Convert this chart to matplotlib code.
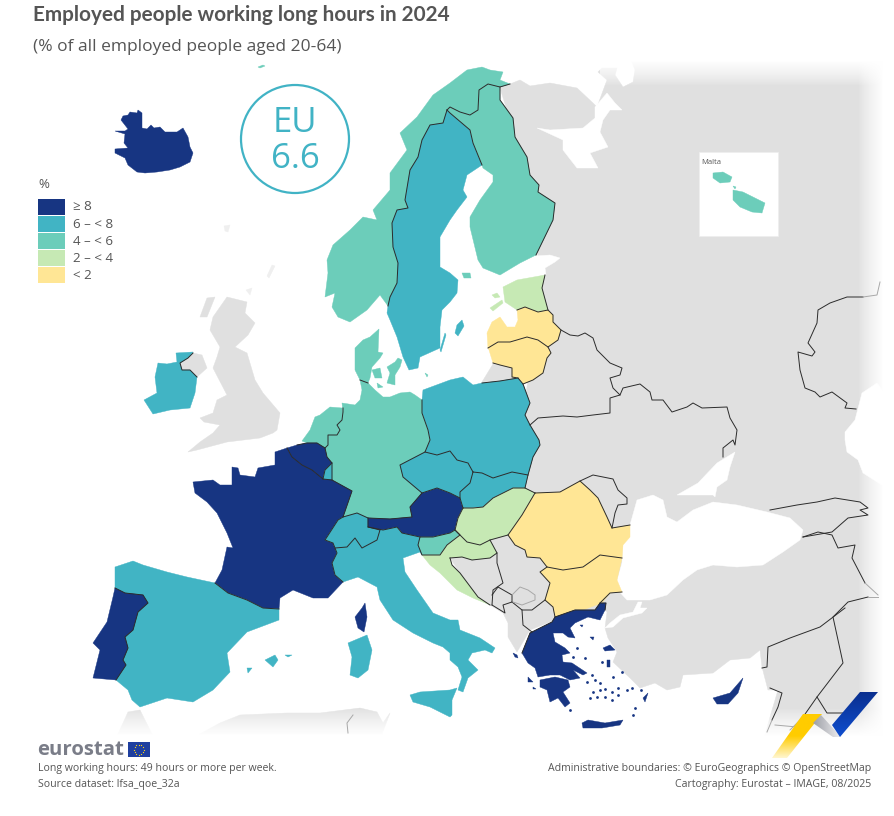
import numpy as np
import matplotlib
matplotlib.use("Agg")
import matplotlib.pyplot as plt
from matplotlib.colors import LinearSegmentedColormap
from matplotlib.patches import Circle, Polygon, Rectangle

plt.rcParams['font.family'] = ['Open Sans', 'DejaVu Sans']

TEXT_COL = '#555555'
LAND_COL = '#e0e0e0'
BORDER_COL = '#2b2b2b'
EU_COL = '#41b3c5'

# classes of the map
CLASS_LABELS = ['≥ 8', '6 – < 8', '4 – < 6', '2 – < 4', '< 2']
CLASS_COLORS = ['#173582', '#41b4c4', '#6ccdba', '#c6e9b4', '#ffe695']

COUNTRY_CLASS = {
    'IS': 0, 'FR': 0, 'BE': 0, 'PT': 0, 'AT': 0, 'EL': 0, 'CY': 0,
    'SE': 1, 'IE': 1, 'PL': 1, 'CZ': 1, 'SK': 1, 'ES': 1, 'IT': 1, 'CH': 1, 'LU': 1,
    'NO': 2, 'FI': 2, 'DK': 2, 'DE': 2, 'NL': 2, 'SI': 2, 'MT': 2,
    'EE': 3, 'HU': 3, 'HR': 3,
    'LV': 4, 'LT': 4, 'RO': 4, 'BG': 4,
}

# outlines, in pixels of the reference
SHAPES = {
    'IS': [[(115,131),(125,131),(128,129),(121,120),(123,116),(128,115),(130,112),(137,113),(138,110),(142,113),(142,128),(147,129),(151,125),(154,128),(160,127),(165,132),(177,132),(183,128),(188,137),(190,147),(193,153),(190,162),(180,167),(170,170),(157,172),(145,173),(137,172),(128,165),(125,158),(115,153),(115,149),(128,148),(124,143),(125,134)]],
    'NO': [[(388,306),(380,295),(367,310),(350,322),(338,317),(332,307),(335,293),(325,297),(328,273),(327,260),(333,245),(350,230),(363,217),(377,220),(373,210),(390,190),(390,173),(407,150),(400,133),(417,117),(433,95),(450,83),(467,70),(482,67),(490,70),(503,72),(500,80),(510,84),(500,87),(488,84),(479,90),(478,110),(470,115),(460,112),(450,107),(447,110),(443,123),(430,125),(422,140),(418,157),(410,170),(405,200),(408,208),(397,210),(392,223),(393,247),(398,263),(397,283),(390,297)],
           [(258,67),(263,65),(265,66),(260,68)]],
    'SE': [[(447,110),(443,123),(430,125),(422,140),(418,157),(410,170),(405,200),(408,208),(397,210),(392,223),(393,247),(398,263),(397,283),(390,297),(388,306),(387,313),(390,320),(397,337),(403,357),(409,370),(418,368),(420,357),(440,348),(440,327),(442,310),(450,302),(457,293),(458,280),(450,273),(440,267),(440,237),(450,220),(457,210),(467,197),(463,190),(467,175),(482,165),(473,143),(470,130),(450,113)],
           [(462,320),(464,326),(458,336),(455,333),(457,325)],
           [(445,333),(446,335),(441,352),(440,350)]],
    'FI': [[(500,87),(500,100),(513,118),(515,137),(527,157),(530,175),(539,185),(538,192),(555,203),(553,220),(536,255),(520,263),(500,275),(483,268),(478,260),(470,227),(470,217),(480,200),(493,182),(493,175),(483,168),(482,165),(473,143),(470,130),(450,113),(447,110),(450,107),(460,112),(470,115),(478,110),(479,90),(488,84)],
           [(462,273),(470,273),(471,278),(464,278)]],
    'EE': [[(503,287),(517,280),(545,275),(542,288),(548,310),(538,312),(525,307),(517,310),(505,302)],
           [(490,308),(502,300),(503,303),(493,311)],
           [(492,295),(497,293),(500,297),(495,298)]],
    'LV': [[(517,310),(525,307),(538,312),(548,310),(553,315),(553,322),(561,330),(558,340),(548,347),(538,340),(527,337),(510,342),(498,342),(488,348),(487,333),(492,322),(500,317),(507,327),(515,327),(518,320)]],
    'LT': [[(488,348),(498,342),(510,342),(527,337),(538,340),(548,347),(551,353),(547,358),(543,373),(533,380),(523,384),(518,378),(512,377),(512,368),(500,365),(493,363),(489,350)]],
    'PL': [[(422,400),(423,390),(450,380),(463,377),(473,385),(482,383),(500,381),(518,378),(523,384),(530,403),(525,415),(530,425),(539,440),(540,445),(533,457),(528,475),(512,472),(493,478),(482,473),(473,472),(468,463),(457,460),(450,451),(437,455),(425,452),(430,440),(428,430),(422,413)]],
    'DE': [[(360,380),(368,383),(375,390),(383,397),(390,397),(400,393),(410,392),(415,395),(422,400),(422,413),(428,430),(430,440),(425,452),(400,465),(403,477),(422,493),(410,507),(412,517),(390,519),(368,518),(357,513),(343,517),(352,491),(332,480),(332,463),(327,457),(325,448),(328,445),(328,435),(337,435),(340,430),(337,425),(342,420),(343,412),(342,403),(355,405),(360,400),(362,390)]],
    'DK': [[(360,380),(355,370),(355,348),(363,340),(370,337),(379,329),(378,352),(383,353),(380,358),(372,367),(370,378),(368,383)],
           [(387,367),(395,362),(398,358),(402,360),(400,367),(395,375),(395,385),(387,383),(390,373)],
           [(372,370),(380,368),(382,378),(375,378)],
           [(377,383),(383,387),(378,388)],
           [(425,373),(428,375),(427,377)]],
    'NL': [[(302,441),(310,430),(315,417),(320,415),(330,407),(342,408),(343,412),(342,420),(337,425),(340,430),(337,435),(328,435),(328,445),(325,448),(317,443),(307,443)]],
    'BE': [[(287,448),(297,445),(307,443),(317,443),(325,448),(327,457),(332,463),(325,470),(323,479),(312,470),(302,465),(292,457)]],
    'LU': [[(325,470),(332,463),(332,480),(323,479)]],
    'FR': [[(193,482),(213,480),(220,485),(232,485),(232,467),(238,468),(240,475),(255,477),(258,468),(275,465),(275,452),(287,448),(292,457),(302,465),(312,470),(323,479),(332,480),(352,491),(343,517),(338,520),(325,540),(333,543),(335,548),(337,553),(332,563),(335,575),(343,582),(328,598),(313,598),(293,590),(280,598),(279,609),(263,608),(247,600),(228,593),(215,583),(222,570),(227,547),(233,548),(227,533),(217,513),(207,502),(195,493)],
           [(365,603),(367,617),(364,632),(358,628),(355,617),(362,608)]],
    'CH': [[(325,540),(338,520),(343,517),(357,513),(368,518),(368,527),(380,530),(377,540),(362,548),(355,538),(347,547),(335,548),(333,543)]],
    'AT': [[(368,518),(390,519),(412,517),(410,507),(422,493),(437,488),(450,493),(460,498),(463,508),(458,518),(455,530),(450,533),(433,537),(420,537),(402,533),(397,527),(383,530),(368,527)]],
    'CZ': [[(400,465),(425,452),(437,455),(450,451),(457,460),(468,463),(473,472),(470,483),(460,492),(460,498),(450,493),(437,488),(422,493),(403,477)]],
    'SK': [[(473,472),(482,473),(493,478),(512,472),(528,475),(525,488),(513,488),(493,498),(483,507),(473,508),(463,508),(460,498),(460,492),(470,483)]],
    'HU': [[(463,508),(473,508),(483,507),(493,498),(513,488),(525,488),(535,493),(522,515),(508,535),(490,540),(480,545),(467,542),(455,530),(458,518)]],
    'SI': [[(420,537),(433,537),(450,533),(455,530),(460,535),(447,545),(440,555),(422,555),(418,545)]],
    'HR': [[(422,555),(440,555),(447,545),(460,535),(467,542),(480,545),(490,540),(497,553),(490,558),(472,560),(462,557),(450,558),(452,565),(460,573),(478,597),(490,605),(473,598),(457,590),(440,573),(430,565)]],
    'RO': [[(508,535),(522,515),(535,493),(560,492),(580,481),(590,490),(598,498),(607,517),(612,528),(630,525),(630,537),(623,545),(622,558),(600,555),(583,567),(563,570),(547,567),(540,558),(527,557),(525,550),(515,545)]],
    'BG': [[(547,567),(563,570),(583,567),(600,555),(622,558),(617,580),(622,592),(610,593),(602,603),(583,610),(573,612),(555,617),(553,607),(545,600),(550,583),(540,572)]],
    'EL': [[(522,653),(530,633),(552,622),(555,617),(575,610),(595,610),(600,603),(606,603),(605,610),(600,620),(588,617),(575,623),(570,628),(575,638),(568,637),(563,633),(553,633),(555,642),(565,648),(570,653),(562,655),(563,662),(572,663),(587,673),(583,675),(573,670),(580,678),(570,680),(560,675),(550,675),(538,677),(535,668),(528,663)],
           [(540,680),(555,677),(568,680),(570,687),(563,692),(570,703),(565,707),(558,698),(550,702),(547,690),(540,687)],
           [(582,723),(588,720),(605,723),(623,720),(620,725),(602,728),(583,728)],
           [(603,648),(610,645),(615,650),(605,651)],
           [(607,660),(610,660),(610,667),(607,667)],
           [(643,698),(648,693),(645,702)],
           [(513,653),(517,655),(518,658),(515,657)],
           [(528,677),(533,682),(528,682)],
           [(533,687),(536,689),(533,689)],
           [(580,625),(583,625),(582,627)],
           [(590,637),(594,637),(593,640)]],
    'CY': [[(713,698),(730,693),(743,678),(738,693),(728,704),(717,704)]],
    'IT': [[(335,548),(347,547),(355,538),(362,548),(377,540),(380,530),(383,530),(397,527),(402,533),(420,537),(418,545),(422,555),(420,552),(403,558),(405,572),(417,590),(433,613),(450,620),(458,620),(460,630),(480,638),(495,648),(492,653),(485,650),(472,653),(468,660),(478,670),(468,678),(463,692),(458,690),(462,677),(458,667),(450,660),(450,653),(443,647),(433,643),(413,633),(393,620),(380,600),(377,587),(358,577),(343,582),(335,575),(332,563),(337,553)],
           [(410,695),(420,692),(450,690),(457,688),(452,700),(452,715),(450,717),(430,707),(413,702)],
           [(348,643),(367,635),(372,650),(368,670),(358,678),(350,675),(352,657)]],
    'ES': [[(115,567),(133,561),(143,565),(167,572),(187,577),(215,583),(228,593),(247,600),(263,608),(279,609),(279,620),(247,632),(227,653),(230,672),(213,690),(193,702),(167,698),(140,707),(132,700),(128,690),(116,680),(126,665),(123,660),(128,648),(125,637),(133,630),(138,612),(148,603),(143,595),(125,593),(115,588)],
           [(265,660),(275,655),(278,660),(273,667)],
           [(285,655),(292,655),(288,657)],
           [(247,668),(252,668),(248,673)]],
    'PT': [[(115,588),(125,593),(143,595),(148,603),(138,612),(133,630),(125,637),(128,648),(123,660),(126,665),(116,680),(93,678),(100,650),(93,643),(107,622),(113,597)]],
    'IE': [[(158,363),(167,364),(177,362),(176,353),(193,352),(188,358),(180,363),(182,370),(190,370),(197,377),(195,393),(190,408),(170,410),(153,414),(144,400),(157,393),(155,377)]],
    'MT': [[(733,190),(743,192),(753,197),(765,203),(762,213),(752,212),(740,207),(733,200)],
           [(713,173),(723,172),(732,177),(730,182),(720,183),(713,178)],
           [(733,186),(736,187),(735,189)]],
}

# grey land around the countries with data
LAND_EAST = [(500,88),(510,84),(520,80),(530,86),(550,83),(577,88),(593,103),(597,107),(607,80),(598,72),(602,68),(617,68),(615,75),(623,87),(633,82),(635,70),(632,62),(882,62),(882,735),(765,735),(770,717),(778,690),(768,690),(762,667),(760,650),(750,658),(730,660),(713,673),(683,675),(680,687),(667,690),(655,683),(640,688),(630,678),(613,662),(617,652),(608,638),(605,628),(607,612),(605,610),(560,618),(530,630),(517,652),(508,637),(508,623),(503,613),(490,605),(478,597),(460,573),(450,558),(460,530),(500,500),(525,430),(525,400),(540,300),(535,200),(510,120)]
LAND_UK = [(213,317),(227,297),(247,302),(245,313),(255,323),(248,335),(235,347),(247,353),(255,380),(263,393),(280,413),(277,430),(273,433),(260,438),(227,442),(197,450),(188,452),(200,442),(213,433),(220,425),(204,422),(200,418),(213,413),(217,400),(227,395),(213,368),(217,357),(220,347),(210,330)]
LAND_NI = [(180,363),(188,358),(193,353),(202,355),(207,368),(197,377),(190,370),(182,370)]
LAND_HEBRIDES = [(200,317),(207,298),(215,297),(207,317)]
LAND_KALININGRAD = [(482,382),(493,364),(500,365),(512,368),(512,377),(518,378),(500,381)]
LAND_MOROCCO = [(118,734),(128,712),(140,710),(145,720),(152,734)]
LAND_ALGERIA = [(200,734),(220,723),(240,715),(287,713),(320,713),(360,708),(377,712),(383,723),(390,713),(382,734)]
FAINT_ISLES = [[(224,226),(230,225),(228,232),(225,231)], [(272,265),(275,266),(269,278),(267,276)], [(246,290),(252,288),(250,295)]]

SEA_WHITE = [(537,128),(550,130),(583,128),(595,118),(595,107),(607,93),(615,103),(622,110),(610,110),(603,120),(600,132),(608,147),(590,153),(598,168),(577,168),(563,150),(563,140)]
SEA_FINLAND = [(520,268),(535,256),(550,255),(560,258),(555,262),(545,268),(546,275),(517,280),(503,285),(500,278)]
SEA_BLACK = [(630,525),(637,500),(653,495),(663,500),(667,517),(677,522),(693,510),(713,502),(737,505),(767,512),(790,518),(803,530),(800,540),(783,552),(763,565),(737,567),(713,565),(697,570),(683,580),(667,595),(650,600),(627,600),(615,587),(622,563),(623,540)]
SEA_AZOV = [(715,497),(717,487),(727,480),(730,467),(735,452),(717,463),(698,483),(677,495),(697,495),(713,495)]
SEA_MARMARA = [(638,602),(642,602),(640,608),(647,608),(642,613),(623,618),(613,627),(605,628),(610,623),(620,615),(633,612)]
SEA_CASPIAN = [(877,383),(862,393),(855,420),(845,432),(845,440),(847,452),(858,460),(863,473),(885,487),(890,400)]

# borders between countries
BORDERS = [
    [(447,110),(443,123),(430,125),(422,140),(418,157),(410,170),(405,200),(408,208),(397,210),(392,223),(393,247),(398,263),(397,283),(390,297),(388,306)],
    [(510,84),(500,87),(488,84),(479,90),(478,110),(470,115),(460,112),(450,107),(447,110)],
    [(447,110),(450,113),(470,130),(473,143),(482,165)],
    [(500,87),(500,100),(513,118),(515,137),(527,157),(530,175),(539,185),(538,192),(555,203),(553,220),(536,255)],
    [(545,275),(542,288),(548,310)],
    [(517,310),(525,307),(538,312),(548,310),(553,315),(553,322),(561,330),(558,340),(548,347)],
    [(488,348),(498,342),(510,342),(527,337),(538,340),(548,347),(551,353),(547,358),(543,373),(533,380),(523,384)],
    [(482,383),(500,381),(518,378),(512,377),(512,368),(500,365),(493,363)],
    [(518,378),(523,384),(530,403),(525,415),(530,425),(539,440),(540,445),(533,457),(528,475)],
    [(422,400),(422,413),(428,430),(430,440),(425,452),(437,455),(450,451),(457,460),(468,463),(473,472)],
    [(473,472),(482,473),(493,478),(512,472),(528,475),(525,488),(535,493)],
    [(425,452),(400,465),(403,477),(422,493),(437,488),(450,493),(460,498),(463,508)],
    [(473,472),(470,483),(460,492),(460,498)],
    [(463,508),(473,508),(483,507),(493,498),(513,488),(525,488)],
    [(535,493),(522,515),(508,535),(490,540),(480,545),(467,542),(455,530)],
    [(463,508),(458,518),(455,530),(450,533),(433,537),(420,537),(402,533),(397,527),(383,530),(368,527)],
    [(422,493),(410,507),(412,517),(390,519),(368,518),(357,513),(343,517),(352,491),(332,480),(332,463),(327,457),(325,448)],
    [(343,408),(343,412),(342,420),(337,425),(340,430),(337,435),(328,435),(328,445),(325,448),(317,443),(307,443),(297,445)],
    [(360,380),(368,383)],
    [(287,448),(292,457),(302,465),(312,470),(323,479),(332,480)],
    [(332,463),(325,470),(323,479)],
    [(343,517),(338,520),(325,540),(333,543),(335,548),(337,553),(332,563),(335,575),(343,582)],
    [(335,548),(347,547),(355,538),(362,548),(377,540),(380,530),(368,527),(368,518)],
    [(215,583),(228,593),(247,600),(263,608),(279,609)],
    [(115,588),(125,593),(143,595),(148,603),(138,612),(133,630),(125,637),(128,648),(123,660),(126,665),(116,680)],
    [(420,537),(418,545),(422,555),(440,555),(447,545),(460,535),(455,530)],
    [(193,353),(188,358),(180,363),(182,370),(190,370),(197,377)],
    [(508,535),(515,545),(525,550),(527,557),(540,558),(547,567),(563,570),(583,567),(600,555),(622,558)],
    [(535,493),(560,492),(580,481),(590,490),(598,498),(607,517),(612,528),(630,525)],
    [(547,567),(540,572),(550,583),(545,600),(553,607),(555,617),(575,610),(595,610),(600,603),(610,593),(622,592)],
    [(600,603),(606,603),(605,610)],
    [(522,653),(530,633),(552,622),(555,617)],
    # Belarus, Ukraine, Moldova
    [(561,330),(570,335),(578,336),(585,333),(593,338),(597,350),(610,363),(622,368),(620,375),(610,378),(613,388),(620,395),(623,388),(640,384),(650,392),(652,400),(663,400),(672,412),(687,407),(693,403),(702,408),(727,407),(730,418),(737,430),(735,445),(733,440),(723,448),(723,457)],
    [(530,425),(538,418),(563,416),(577,417),(593,415),(610,413),(610,398),(620,395)],
    [(580,481),(593,475),(613,479),(618,490),(627,498),(627,504),(618,505),(615,513),(612,528)],
    # western Balkans
    [(450,558),(452,565),(460,573),(478,597),(490,605)],
    [(450,558),(462,557),(472,560),(490,558),(497,553),(490,540)],
    [(497,553),(497,563),(503,583),(493,590),(492,605)],
    [(492,595),(498,587),(512,595),(512,602),(503,605),(505,613),(492,605)],
    [(512,602),(522,610),(532,610),(545,600)],
    [(522,610),(523,625),(532,632)],
    # Russia and Kazakhstan
    [(863,297),(847,297),(830,303),(818,310),(817,323),(808,343),(815,352),(812,356),(798,352),(800,370),(805,388),(815,392),(820,397),(832,392),(847,403),(845,408),(856,409)],
    # Caucasus
    [(770,510),(797,505),(817,502),(835,498),(860,502),(868,508),(860,510),(868,515),(848,518),(832,532),(803,537)],
    [(803,537),(818,532),(832,535),(838,548),(855,545),(852,558),(865,583)],
    # Turkey and the Levant
    [(868,597),(848,602),(833,617),(843,663),(817,697),(803,717)],
    [(845,608),(820,627),(790,638),(768,647),(767,667),(762,668)],
    [(770,688),(782,693),(778,707),(772,720)],
    [(817,697),(827,713),(843,713)],
]
# lines that run out into the faded edge of the map, and the Kosovo line
PALE_LINES = [
    [(880,282),(877,295),(863,297)],
    [(865,583),(878,595)],
    [(878,597),(868,597)],
    [(803,717),(790,730)],
    [(772,720),(767,732)],
    [(775,725),(797,727)],
    [(353,715),(347,723),(348,733)],
    [(512,595),(520,587),(528,590),(535,595),(535,600),(522,605),(513,602)],
]

MALTA_BOX = [699, 152, 79, 84]

GREEK_ISLANDS_X = [585, 577, 573, 602, 613, 622, 592, 595, 587, 600, 605, 600, 593, 612, 590, 597, 605, 612, 618, 627, 632, 635, 633, 570, 641, 618]
GREEK_ISLANDS_Y = [658, 648, 657, 662, 677, 672, 675, 680, 682, 683, 689, 690, 692, 692, 698, 697, 697, 700, 695, 690, 688, 708, 715, 710, 690, 688]

TITLE = 'Employed people working long hours in 2024'
SUBTITLE = '(% of all employed people aged 20-64)'
FOOT_LEFT = ['Long working hours: 49 hours or more per week.', 'Source dataset: lfsa_qoe_32a']
FOOT_RIGHT = ['Administrative boundaries: © EuroGeographics © OpenStreetMap', 'Cartography: Eurostat – IMAGE, 08/2025']

fig = plt.figure(figsize=(8.95, 8.16), dpi=100)
ax = fig.add_axes([0, 0, 1, 1])


def fill_shape(pts, color, z, lw=0.3):
    ax.add_patch(Polygon(pts, closed=True, facecolor=color, edgecolor=color, linewidth=lw, zorder=z))


def fade(extent, horizontal, flip):
    """White overlay that hides the map towards the frame."""
    ramp = np.linspace(0, 1, 64) ** 0.8
    if flip:
        ramp = ramp[::-1]
    rgba = np.ones((1, 64, 4)) if horizontal else np.ones((64, 1, 4))
    rgba[..., 3] = ramp.reshape(rgba.shape[:2])
    ax.imshow(rgba, extent=extent, aspect='auto', zorder=3, interpolation='bilinear')


def ribbon(pts, colors, extent, horizontal=False):
    """Gradient filled part of the corner logo."""
    cmap = LinearSegmentedColormap.from_list('rib', colors)
    grad = np.linspace(0, 1, 128).reshape(-1, 1) if not horizontal else np.linspace(0, 1, 128).reshape(1, -1)
    im = ax.imshow(grad, cmap=cmap, extent=extent, aspect='auto', zorder=8)
    clip = Polygon(pts, closed=True, transform=ax.transData, facecolor='none', edgecolor='none')
    ax.add_patch(clip)
    im.set_clip_path(clip)


# land and seas
fill_shape(LAND_EAST, LAND_COL, 1)
for land in [LAND_UK, LAND_NI, LAND_HEBRIDES, LAND_KALININGRAD, LAND_MOROCCO, LAND_ALGERIA]:
    fill_shape(land, LAND_COL, 1)
for isle in FAINT_ISLES:
    fill_shape(isle, '#efefef', 1)
for sea in [SEA_WHITE, SEA_FINLAND, SEA_BLACK, SEA_AZOV, SEA_MARMARA, SEA_CASPIAN]:
    fill_shape(sea, 'white', 2)

# fade out towards the frame
fade((858, 884, 800, 40), True, False)
fade((600, 895, 86, 60), False, True)
fade((100, 895, 736, 708), False, False)

# countries
for code, parts in SHAPES.items():
    for part in parts:
        fill_shape(part, CLASS_COLORS[COUNTRY_CLASS[code]], 6 if code == 'MT' else 4)
ax.scatter(GREEK_ISLANDS_X, GREEK_ISLANDS_Y, s=4, color=CLASS_COLORS[0], linewidths=0, zorder=4)

for line in BORDERS:
    xs, ys = zip(*line)
    ax.plot(xs, ys, color=BORDER_COL, lw=0.7, solid_joinstyle='round', zorder=5)
for line in PALE_LINES:
    xs, ys = zip(*line)
    ax.plot(xs, ys, color='#a8a8a8', lw=0.7, solid_joinstyle='round', zorder=5)

# Malta inset
ax.add_patch(Rectangle((MALTA_BOX[0], MALTA_BOX[1]), MALTA_BOX[2], MALTA_BOX[3], facecolor='white',
                       edgecolor='#eeeeee', linewidth=0.5, zorder=5.5))
ax.text(701, 162, 'Malta', fontsize=5.5, color=TEXT_COL, va='center', zorder=7)

# EU badge
ax.add_patch(Circle((295, 139), 54, facecolor='none', edgecolor=EU_COL, linewidth=1.6, zorder=7))
ax.text(295, 132, 'EU', fontsize=25, color=EU_COL, ha='center', va='baseline', zorder=7)
ax.text(295, 168, '6.6', fontsize=25, color=EU_COL, ha='center', va='baseline', zorder=7)

# legend
ax.text(38, 185, '%', fontsize=9.5, color=TEXT_COL, va='center')
for i, (label, color) in enumerate(zip(CLASS_LABELS, CLASS_COLORS)):
    y = 199 + i * 17.1
    ax.add_patch(Rectangle((38, y), 27, 15.5, facecolor=color, edgecolor='none', zorder=7))
    ax.text(73, y + 8, label, fontsize=9.6, color=TEXT_COL, va='center', zorder=7)

# titles
ax.text(33, 15, TITLE, fontsize=14.95, fontweight='bold', family=['Lato', 'DejaVu Sans'], color=TEXT_COL, va='center')
ax.text(33, 47, SUBTITLE, fontsize=12.55, color=TEXT_COL, va='center')

# eurostat logo
ax.text(37, 750, 'eurostat', fontsize=14.7, fontweight='bold', color='#7a7d88', va='center', zorder=9)
ax.add_patch(Rectangle((128, 742), 22, 15, facecolor='#1f3f9f', edgecolor='none', zorder=9))
star_angles = np.deg2rad(np.arange(0, 360, 30))
ax.scatter(139 + 5 * np.cos(star_angles), 749.5 + 5 * np.sin(star_angles), s=0.8, color='#ffd617',
           linewidths=0, zorder=10)

# footers
for i, txt in enumerate(FOOT_LEFT):
    ax.text(38, 768 + i * 16, txt, fontsize=7.6, color=TEXT_COL, va='center', zorder=9)
for i, txt in enumerate(FOOT_RIGHT):
    ax.text(871, 768 + i * 16, txt, fontsize=7.6, color=TEXT_COL, va='center', ha='right', zorder=9)

# corner ribbons
ribbon([(803,714),(822,714),(787,758),(772,758)], ['#ffcc00', '#ffcc00', '#fff6d0'], (770, 825, 758, 714))
ribbon([(813,723),(821,715),(841,737),(833,737)], ['#9a9ca3', '#f2f2f4'], (812, 842, 714, 738), True)
ribbon([(860,692),(878,692),(840,737),(832,725)], ['#0f4fd0', '#0a2f8f'], (830, 880, 692, 738))

ax.set_xlim(0, 895)
ax.set_ylim(816, 0)
ax.axis('off')

fig.savefig('out.png', dpi=100, facecolor='white')
